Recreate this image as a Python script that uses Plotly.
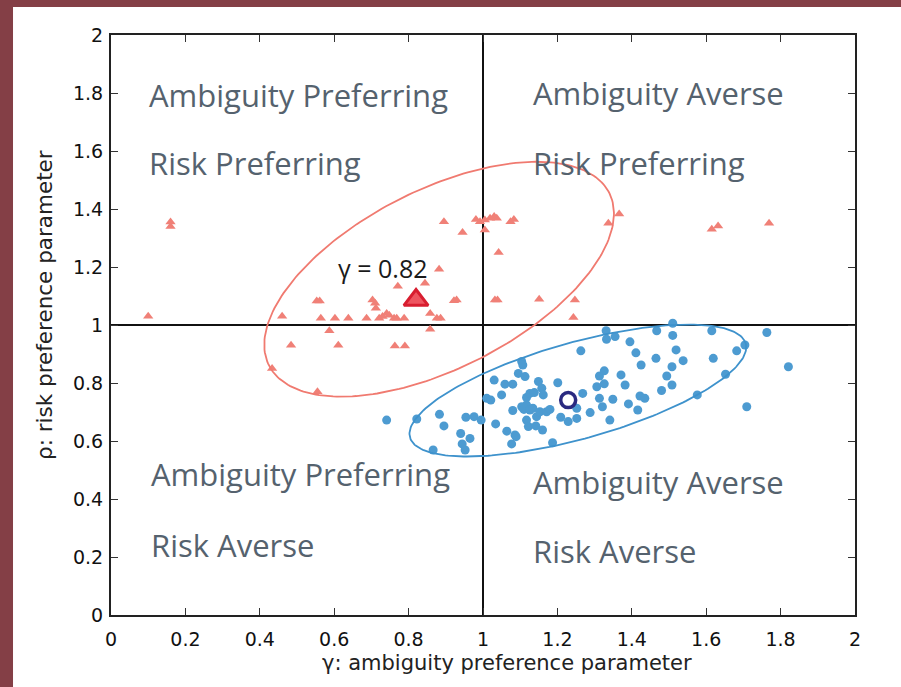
import numpy as np
import plotly.graph_objects as go

# ---------------- data ----------------
red_x = [0.10, 0.16, 0.16, 0.46, 0.484, 0.433, 0.555, 0.553, 0.561, 0.564, 0.602, 0.638,
         0.587, 0.611, 0.687, 0.703, 0.71, 0.712, 0.721, 0.730, 0.741, 0.748, 0.761, 0.768,
         0.788, 0.771, 0.763, 0.790, 0.882, 0.844, 0.858, 0.876, 0.886, 0.858, 0.922, 0.929,
         0.895, 0.945, 0.981, 0.992, 1.005, 1.019, 1.030, 1.037, 1.005, 1.074, 1.083, 1.042,
         1.032, 1.039, 1.151, 1.247, 1.243, 1.337, 1.366, 1.615, 1.632, 1.769]
red_y = [1.03, 1.355, 1.34, 1.03, 0.93, 0.85, 0.77, 1.083, 1.083, 1.023, 1.023, 1.023,
         0.98, 0.93, 1.023, 1.086, 1.075, 1.058, 1.023, 1.029, 1.04, 1.034, 1.023, 1.023,
         1.023, 1.134, 0.928, 0.928, 1.192, 1.144, 1.04, 1.023, 1.023, 0.985, 1.084, 1.086,
         1.356, 1.319, 1.364, 1.356, 1.362, 1.368, 1.374, 1.368, 1.328, 1.356, 1.364, 1.25,
         1.086, 1.086, 1.089, 1.086, 1.026, 1.351, 1.383, 1.33, 1.341, 1.351]

blue_x = [0.741, 0.822, 0.883, 0.895, 0.866, 0.940, 0.944, 0.952, 0.965, 0.954, 0.976, 0.995,
          1.010, 1.021, 1.030, 1.034, 1.050, 1.059, 1.080, 1.064, 1.086, 1.089, 1.077, 1.080,
          1.095, 1.104, 1.107, 1.113, 1.104, 1.110, 1.117, 1.126, 1.134, 1.117, 1.126, 1.138,
          1.117, 1.122, 1.149, 1.158, 1.162, 1.144, 1.153, 1.171, 1.180, 1.142, 1.160, 1.187,
          1.201, 1.209, 1.268, 1.252, 1.252, 1.229, 1.288, 1.263, 1.341, 1.313, 1.321, 1.306,
          1.313, 1.326, 1.326, 1.349, 1.371, 1.382, 1.391, 1.416, 1.422, 1.435, 1.425, 1.411,
          1.395, 1.332, 1.355, 1.331, 1.465, 1.480, 1.494, 1.508, 1.508, 1.467, 1.510, 1.510,
          1.519, 1.538, 1.615, 1.619, 1.576, 1.652, 1.682, 1.704, 1.763, 1.821, 1.709]
blue_y = [0.672, 0.676, 0.692, 0.652, 0.569, 0.626, 0.590, 0.569, 0.609, 0.682, 0.684, 0.672,
          0.747, 0.741, 0.810, 0.659, 0.759, 0.796, 0.796, 0.634, 0.621, 0.615, 0.590, 0.705,
          0.833, 0.874, 0.862, 0.822, 0.718, 0.709, 0.724, 0.707, 0.713, 0.750, 0.764, 0.767,
          0.672, 0.650, 0.805, 0.782, 0.759, 0.684, 0.701, 0.701, 0.709, 0.652, 0.638, 0.594,
          0.801, 0.682, 0.764, 0.713, 0.678, 0.667, 0.698, 0.911, 0.672, 0.747, 0.718, 0.787,
          0.824, 0.842, 0.797, 0.744, 0.828, 0.793, 0.728, 0.707, 0.755, 0.747, 0.862, 0.904,
          0.942, 0.951, 0.960, 0.980, 0.885, 0.774, 0.824, 0.856, 0.793, 0.980, 1.006, 0.964,
          0.914, 0.877, 0.980, 0.885, 0.759, 0.830, 0.911, 0.931, 0.974, 0.856, 0.718]

red_mean = (0.82, 1.086)
blue_mean = (1.229, 0.741)
gamma_label = "γ = 0.82"

# ellipse parameters: center x, center y, semi-major, semi-minor, angle (deg)
red_ellipse = (0.882, 1.158, 0.550, 0.287, 37.5)
blue_ellipse = (1.255, 0.774, 0.480, 0.162, 20.7)

tick_vals = [0, 0.2, 0.4, 0.6, 0.8, 1, 1.2, 1.4, 1.6, 1.8, 2]
tick_text = ["0", "0.2", "0.4", "0.6", "0.8", "1", "1.2", "1.4", "1.6", "1.8", "2"]

quadrant_labels = [
    ("Ambiguity Preferring", 0.098, 1.793),
    ("Risk Preferring", 0.098, 1.557),
    ("Ambiguity Averse", 1.128, 1.800),
    ("Risk Preferring", 1.128, 1.557),
    ("Ambiguity Preferring", 0.102, 0.486),
    ("Risk Averse", 0.103, 0.243),
    ("Ambiguity Averse", 1.130, 0.459),
    ("Risk Averse", 1.130, 0.219),
]

# ---------------- figure ----------------
def ellipse_xy(params, n=240):
    cx, cy, a, b, ang = params
    t = np.linspace(0, 2 * np.pi, n)
    th = np.deg2rad(ang)
    x = cx + a * np.cos(t) * np.cos(th) - b * np.sin(t) * np.sin(th)
    y = cy + a * np.cos(t) * np.sin(th) + b * np.sin(t) * np.cos(th)
    return x, y

fig = go.Figure()

fig.add_trace(go.Scatter(x=red_x, y=red_y, mode="markers",
                         marker=dict(symbol="triangle-up", size=9, color="#F08077",
                                     line=dict(width=0)), hoverinfo="skip"))
fig.add_trace(go.Scatter(x=blue_x, y=blue_y, mode="markers",
                         marker=dict(symbol="circle", size=9, color="#4D9BD1",
                                     line=dict(width=0)), hoverinfo="skip"))

ex, ey = ellipse_xy(red_ellipse)
fig.add_trace(go.Scatter(x=ex, y=ey, mode="lines", line=dict(color="#F07A70", width=1.8),
                         hoverinfo="skip"))
ex, ey = ellipse_xy(blue_ellipse)
fig.add_trace(go.Scatter(x=ex, y=ey, mode="lines", line=dict(color="#3E92CC", width=1.8),
                         hoverinfo="skip"))

fig.add_trace(go.Scatter(x=[red_mean[0]], y=[red_mean[1]], mode="markers",
                         marker=dict(symbol="triangle-up", size=21, color="#EE5560",
                                     line=dict(color="#D81E30", width=3)), hoverinfo="skip"))
fig.add_trace(go.Scatter(x=[blue_mean[0]], y=[blue_mean[1]], mode="markers",
                         marker=dict(symbol="circle-open", size=15, color="#2A2A80",
                                     line=dict(color="#2A2A80", width=3.5)), hoverinfo="skip"))

# reference lines at 1
fig.add_shape(type="line", x0=0, x1=2, y0=1, y1=1, xref="x", yref="y",
              line=dict(color="#111", width=2), layer="below")
fig.add_shape(type="line", x0=1, x1=1, y0=0, y1=2, xref="x", yref="y",
              line=dict(color="#111", width=2), layer="below")

# maroon border strips
border = "#843F46"
fig.add_shape(type="rect", xref="paper", yref="paper", x0=-0.1492, x1=-0.1317,
              y0=-0.13, y1=1.07, fillcolor=border, line=dict(width=0), layer="above")
fig.add_shape(type="rect", xref="paper", yref="paper", x0=-0.1492, x1=1.07,
              y0=1.0483, y1=1.07, fillcolor=border, line=dict(width=0), layer="above")

annotations = []
for txt, x, y in quadrant_labels:
    annotations.append(dict(text=txt, x=x, y=y, xref="x", yref="y", xanchor="left",
                            yanchor="middle", showarrow=False,
                            font=dict(family="Open Sans", size=31, color="#55626E")))
annotations.append(dict(text=gamma_label, x=0.731, y=1.197, xref="x", yref="y",
                        xanchor="center", yanchor="middle", showarrow=False,
                        font=dict(family="Open Sans", size=25, color="#1a1a1a")))
annotations.append(dict(text="γ: ambiguity preference parameter", x=0.532, y=-0.083,
                        xref="paper", yref="paper", xanchor="center", yanchor="middle",
                        showarrow=False, font=dict(family="DejaVu Sans", size=21, color="#222")))
annotations.append(dict(text="ρ: risk preference parameter", x=-0.0887, y=0.5345,
                        xref="paper", yref="paper", xanchor="center", yanchor="middle",
                        textangle=-90, showarrow=False,
                        font=dict(family="DejaVu Sans", size=21.5, color="#222")))

axis_common = dict(range=[0, 2], tickvals=tick_vals, ticktext=tick_text, ticks="inside",
                   ticklen=7, tickwidth=1.2, tickcolor="#333", showline=True, linewidth=2,
                   linecolor="#222", mirror="ticks", showgrid=False, zeroline=False,
                   tickfont=dict(family="DejaVu Sans", size=19, color="#111"))

fig.update_layout(
    width=901, height=687,
    margin=dict(l=111, r=46, t=35, b=72),
    paper_bgcolor="white", plot_bgcolor="white",
    showlegend=False,
    xaxis=dict(**axis_common, ticklabelstandoff=6),
    yaxis=dict(**axis_common, ticklabelstandoff=2),
    annotations=annotations,
)

fig.write_html("out.html")
